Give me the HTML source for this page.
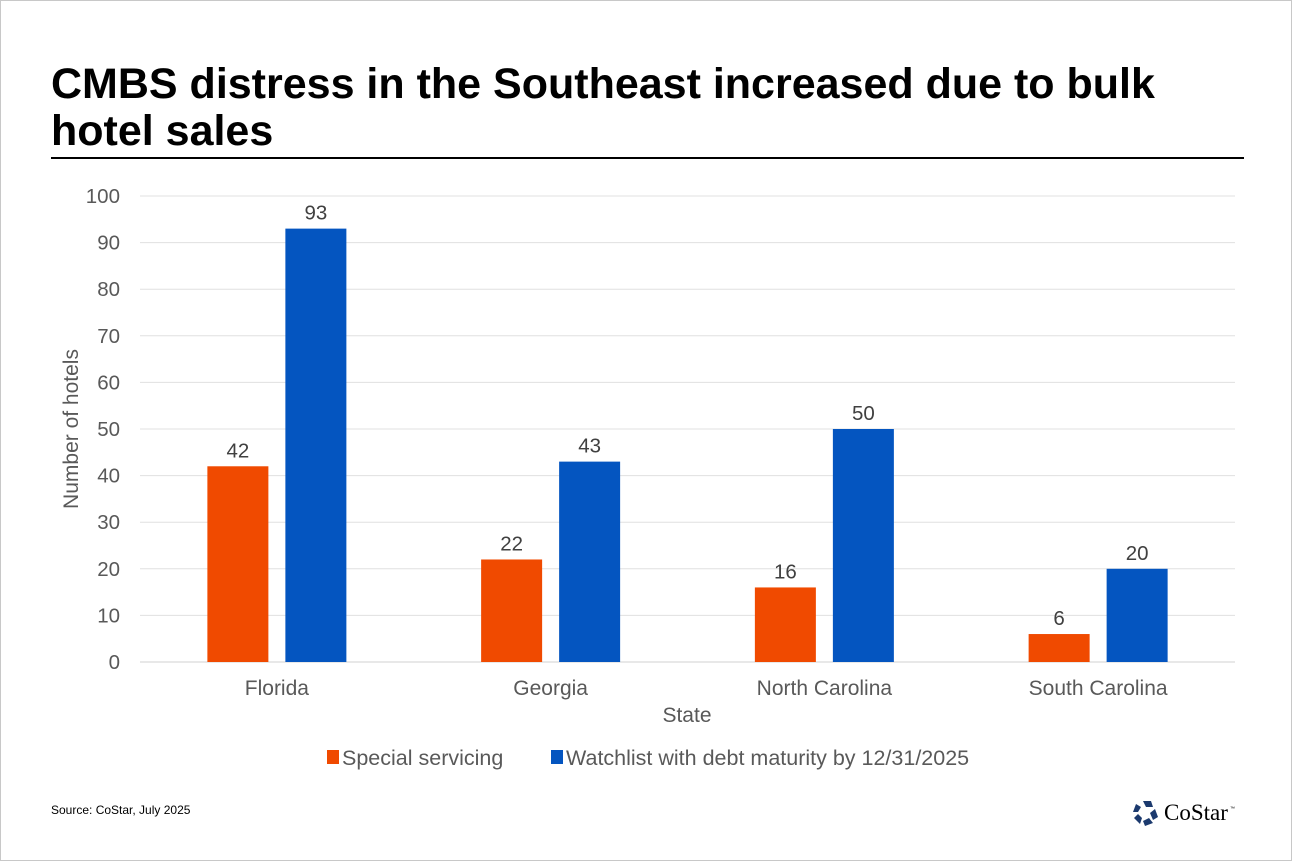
<!DOCTYPE html>
<html><head><meta charset="utf-8"><style>
html,body{margin:0;padding:0;background:#fff}
body{width:1292px;height:861px;position:relative;overflow:hidden;font-family:"Liberation Sans",Arial,sans-serif}
.frame{position:absolute;left:0;top:0;width:1290px;height:859px;border:1px solid #c8c8c8}
h1{position:absolute;left:51px;top:61px;margin:0;font-size:43px;line-height:47px;font-weight:bold;color:#000;width:1190px}
.rule{position:absolute;left:51px;top:157px;width:1193px;height:2px;background:#000}
.src{position:absolute;left:51px;top:803px;font-size:12px;color:#000}
.logo{position:absolute;left:1132px;top:797px}
</style></head><body>
<div class="frame"></div>
<h1>CMBS distress in the Southeast increased due to bulk<br>hotel sales</h1>
<div class="rule"></div>
<svg id="chart" width="1292" height="861" style="position:absolute;left:0;top:0"></svg>
<div class="src">Source: CoStar, July 2025</div>
<svg class="logo" width="110" height="32">
<g transform="translate(14,16)" fill="#1c3a6e">
<polygon points="-3,-12 5,-12 7,-6 0,-6"/><polygon points="9,-4 12,4 7,7 4,0"/><polygon points="7,10 -1,13 -3,8 3,5"/><polygon points="-6,11 -12,5 -8,1 -4,5"/><polygon points="-13,-1 -10,-9 -5,-6 -8,-1"/>
</g>
<text x="32" y="23" font-family="Liberation Serif,serif" font-size="23" fill="#000">CoStar</text>
<text x="98" y="13" font-size="5" fill="#000">™</text>
</svg>
<script>
const categories=["Florida","Georgia","North Carolina","South Carolina"];
const specialServicing=[42,22,16,6];
const watchlist=[93,43,50,20];
const yTicks=[0,10,20,30,40,50,60,70,80,90,100];
const seriesNames=["Special servicing","Watchlist with debt maturity by 12/31/2025"];
const svg=document.getElementById('chart');
const NS='http://www.w3.org/2000/svg';
const x0=140,x1=1235,yZero=662,yTop=196;
function y(v){return yZero-(v/100)*(yZero-yTop);}
const band=(x1-x0)/categories.length;
function cx(i){return x0+band*(i+0.5);}
function mk(t,a,txt){const e=document.createElementNS(NS,t);for(const k in a)e.setAttribute(k,a[k]);if(txt!==undefined)e.textContent=txt;svg.appendChild(e);return e;}
yTicks.forEach(t=>{
 const l=mk('line',{x1:x0,x2:x1,y1:y(t),y2:y(t),stroke:t===0?'#d0d0d0':'#e0e0e0','stroke-width':1});
 
 
 const tx=mk('text',{x:120,y:y(t)+7,'text-anchor':'end','font-size':20.5,fill:'#595959'},t);
 
 
});
const bw=61,gap=17;
const colors=['#f04a00','#0455c0'];
[specialServicing,watchlist].forEach((s,si)=>{
 s.forEach((v,i)=>{
  const bx=si===0?cx(i)-gap/2-bw:cx(i)+gap/2;
  const r=mk('rect',{x:bx,y:y(v),width:bw,height:yZero-y(v),fill:colors[si]});
  
  
  const t=mk('text',{x:bx+bw/2,y:y(v)-9,'text-anchor':'middle','font-size':20.5,fill:'#404040'},v);
  
  
 });
});
categories.forEach((c,i)=>{
 const t=mk('text',{x:cx(i),y:695,'text-anchor':'middle','font-size':21,fill:'#595959'},c);
 
 
});
const xt=mk('text',{x:687,y:722,'text-anchor':'middle','font-size':21,fill:'#595959'},'State');


const yt=mk('text',{x:0,y:0,'text-anchor':'middle','font-size':21,fill:'#595959',transform:'translate(78,429) rotate(-90)'},'Number of hotels');


const lx=[327,551];
seriesNames.forEach((n,i)=>{
 const r=mk('rect',{x:lx[i],y:750,width:12,height:14,fill:colors[i]});
 
 
 const t=mk('text',{x:lx[i]+15,y:765,'font-size':21.5,fill:'#595959'},n);
 
 
});
</script>
</body></html>
